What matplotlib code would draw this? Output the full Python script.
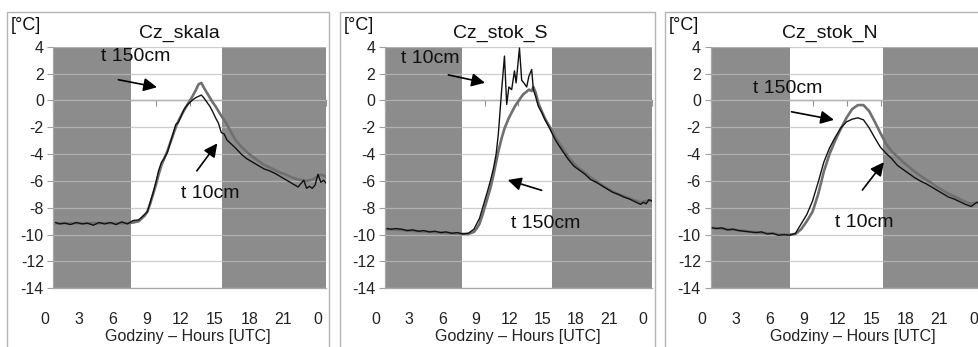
import matplotlib
matplotlib.use("Agg")
import matplotlib.pyplot as plt
import matplotlib.transforms as mtransforms
from matplotlib.patches import Rectangle

plt.rcParams['font.family'] = ['Liberation Sans', 'DejaVu Sans']
plt.rcParams['axes.unicode_minus'] = False

W, H = 979, 347

titles = ["Cz_skala", "Cz_stok_S", "Cz_stok_N"]
day_start = [6.85, 6.9, 7.05]
day_end = [14.85, 15.0, 15.2]
tick_hours = [0, 3, 6, 9, 12, 15, 18, 21, 24]
tick_labels = ["0", "3", "6", "9", "12", "15", "18", "21", "0"]
y_ticks = [4, 2, 0, -2, -4, -6, -8, -10, -12, -14]

# Cz_skala
hours_skala = [0.2, 0.5, 1, 1.5, 2, 2.5, 3, 3.5, 4, 4.5, 5, 5.5, 6, 6.5, 7, 7.5,
               8, 8.25, 8.5, 8.75, 9, 9.25, 9.5, 9.75, 10, 10.25, 10.5, 10.75, 11, 11.25, 11.5, 11.75,
               12, 12.25, 12.5, 12.75, 13, 13.25, 13.5, 13.75, 14, 14.25, 14.5, 14.75, 15, 15.25, 15.5,
               16, 16.5, 17, 17.5, 18, 18.5, 19, 19.5, 20, 20.5, 21, 21.5,
               22, 22.25, 22.5, 22.75, 23, 23.25, 23.5, 23.75, 24]
t10_skala = [-9.1, -9.2, -9.15, -9.25, -9.1, -9.2, -9.15, -9.3, -9.1, -9.2, -9.1, -9.25, -9.05, -9.2, -8.95, -8.9,
             -8.5, -8.3, -7.6, -6.9, -6.1, -5.2, -4.6, -4.3, -3.9, -3.2, -2.5, -1.8, -1.6, -1.1, -0.65, -0.35,
             -0.15, 0.05, 0.2, 0.3, 0.4, 0.15, -0.15, -0.45, -0.85, -1.3, -1.7, -2.4, -2.5, -2.95, -3.15,
             -3.55, -4.0, -4.35, -4.6, -4.85, -5.1, -5.25, -5.45, -5.7, -5.95, -6.2, -6.45,
             -5.95, -6.55, -6.4, -6.55, -6.3, -5.5, -6.1, -5.95, -6.2]
t150_skala = [-9.15, -9.15, -9.15, -9.15, -9.15, -9.15, -9.15, -9.15, -9.15, -9.15, -9.15, -9.15, -9.15, -9.15, -9.1, -9.0,
              -8.6, -8.3, -7.7, -7.0, -6.3, -5.5, -4.8, -4.3, -3.8, -3.2, -2.6, -2.0, -1.5, -1.1, -0.7, -0.35,
              0.0, 0.35, 0.75, 1.2, 1.3, 0.9, 0.55, 0.2, -0.15, -0.45, -0.8, -1.15, -1.45, -1.8, -2.2,
              -2.95, -3.45, -3.85, -4.2, -4.5, -4.8, -5.0, -5.2, -5.4, -5.55, -5.75, -5.9,
              -5.95, -6.0, -5.95, -5.9, -5.8, -5.65, -5.55, -5.6, -5.7]

# Cz_stok_S
hours_stok_s = [0.2, 0.5, 1, 1.5, 2, 2.5, 3, 3.5, 4, 4.5, 5, 5.5, 6, 6.5, 7, 7.5,
                8, 8.25, 8.5, 8.75, 9, 9.25, 9.5, 9.75, 10, 10.2, 10.5, 10.75, 10.95, 11.15, 11.4, 11.65, 11.8,
                12.1, 12.3, 12.5, 12.75, 12.95, 13.2, 13.35, 13.55, 13.8, 14.1, 14.4, 14.7, 15, 15.3, 15.6,
                16, 16.5, 17, 17.5, 18, 18.5, 19, 19.5, 20, 20.5, 21, 21.5, 22, 22.5, 23, 23.25, 23.5, 23.75, 24]
t10_stok_s = [-9.55, -9.6, -9.55, -9.6, -9.7, -9.65, -9.75, -9.7, -9.8, -9.75, -9.85, -9.8, -9.9, -9.85, -9.95, -9.9,
              -9.6, -9.2, -8.8, -8.1, -7.4, -6.7, -5.95, -5.1, -4.0, -2.5, 0.8, 3.3, -0.3, 1.0, 0.8, 2.2, 1.3,
              3.9, 1.5, 1.3, 1.0, 1.8, 2.3, 0.8, 0.3, -0.45, -0.9, -1.45, -1.9, -2.4, -2.9, -3.3,
              -3.8, -4.4, -4.9, -5.2, -5.5, -5.9, -6.1, -6.35, -6.6, -6.85, -7.0, -7.2, -7.35, -7.55, -7.75, -7.6, -7.7, -7.4, -7.5]
t150_stok_s = [-9.6, -9.6, -9.62, -9.65, -9.7, -9.72, -9.75, -9.78, -9.8, -9.82, -9.85, -9.88, -9.9, -9.92, -9.95, -9.95,
               -9.8, -9.55, -9.2, -8.6, -7.9, -7.2, -6.5, -5.6, -4.6, -3.8, -2.8, -2.1, -1.7, -1.3, -0.9, -0.5, -0.3,
               0.05, 0.3, 0.5, 0.65, 0.8, 0.7, 1.0, 0.6, -0.2, -0.8, -1.35, -1.8, -2.2, -2.7, -3.1,
               -3.6, -4.2, -4.7, -5.1, -5.4, -5.75, -6.0, -6.3, -6.55, -6.8, -7.0, -7.15, -7.3, -7.45, -7.6, -7.55, -7.5, -7.45, -7.45]

# Cz_stok_N
hours_stok_n = [0.2, 0.5, 1, 1.5, 2, 2.5, 3, 3.5, 4, 4.5, 5, 5.5, 6, 6.5, 7, 7.5,
                8, 8.5, 9, 9.5, 10, 10.5, 11, 11.5, 12, 12.5, 13, 13.5, 14, 14.5, 15, 15.5,
                16, 16.5, 17, 17.5, 18, 18.5, 19, 19.5, 20, 20.5, 21, 21.5, 22, 22.5, 23, 23.5, 24]
t10_stok_n = [-9.5, -9.55, -9.5, -9.65, -9.6, -9.7, -9.75, -9.8, -9.85, -9.8, -9.95, -9.9, -10.05, -10.0, -10.05, -9.9,
              -9.2, -8.5, -7.5, -6.1, -4.6, -3.55, -2.75, -2.05, -1.6, -1.4, -1.3, -1.45, -2.05, -2.8, -3.5, -3.95,
              -4.35, -4.85, -5.15, -5.45, -5.75, -6.0, -6.2, -6.45, -6.7, -6.95, -7.2, -7.35, -7.55, -7.75, -7.9, -7.6, -7.7]
t150_stok_n = [-9.5, -9.52, -9.55, -9.6, -9.62, -9.68, -9.72, -9.78, -9.82, -9.85, -9.9, -9.93, -9.98, -10.0, -10.0, -9.95,
               -9.6, -9.0, -8.3, -7.0, -5.3, -4.0, -3.0, -2.1, -1.3, -0.65, -0.35, -0.35, -0.8, -1.6, -2.45, -3.25,
               -3.8, -4.2, -4.6, -4.95, -5.3, -5.6, -5.9, -6.15, -6.45, -6.7, -6.95, -7.15, -7.35, -7.55, -7.7, -7.6, -7.6]

hours = [hours_skala, hours_stok_s, hours_stok_n]
t10 = [t10_skala, t10_stok_s, t10_stok_n]
t150 = [t150_skala, t150_stok_s, t150_stok_n]


def fx(px):
    return px / W


def fy(py):
    return 1 - py / H


fig = plt.figure(figsize=(W / 100, H / 100), dpi=100, facecolor='white')

# panel layout in pixels: plot left/right, frame left/right, title x, unit x, xlabel x
panels = [
    dict(left=53.5, right=326.5, frame=(7, 329), title_x=179, unit_x=11, xlabel_x=188),
    dict(left=385, right=651.7, frame=(340, 655), title_x=500, unit_x=344, xlabel_x=518),
    dict(left=710.5, right=982.5, frame=(665, 1010), title_x=830, unit_x=669, xlabel_x=853),
]
plot_top, plot_bottom = 46.7, 288.3

annotations = [
    [("t 150cm", (7.2, 3.25), (5.7, 1.54), (9.1, 0.98)),
     ("t 10cm", (13.8, -6.9), (12.6, -5.25), (14.4, -3.2))],
    [("t 10cm", (4.05, 3.1), (5.7, 1.9), (9.0, 1.31)),
     ("t 150cm", (14.5, -9.15), (14.1, -6.7), (11.05, -5.93))],
    [("t 150cm", (6.8, 0.86), (7.15, -0.85), (10.9, -1.45)),
     ("t 10cm", (13.6, -9.07), (13.4, -6.68), (15.3, -4.6))],
]

label_shift = mtransforms.ScaledTranslation(-9 / 100, 0, fig.dpi_scale_trans)

for i, p in enumerate(panels):
    # outer chart frame
    fl, fr = p['frame']
    fig.add_artist(Rectangle((fx(fl), fy(400)), fx(fr - fl), (400 - 12) / H,
                             transform=fig.transFigure, fill=False,
                             edgecolor='#b5b5b5', linewidth=1.0))

    ax = fig.add_axes([fx(p['left']), fy(plot_bottom),
                       fx(p['right'] - p['left']), (plot_bottom - plot_top) / H])
    ax.set_xlim(0, 24)
    ax.set_ylim(-14, 4)

    ax.axvspan(0, day_start[i], color='#8c8c8c', lw=0, zorder=0.2)
    ax.axvspan(day_end[i], 24, color='#8c8c8c', lw=0, zorder=0.2)

    ax.set_axisbelow(True)
    ax.set_yticks(y_ticks)
    ax.yaxis.grid(True, color='#bdbdbd', linewidth=0.9, alpha=0.75)

    ax.plot(hours[i], t150[i], color='#707070', linewidth=1.9, zorder=3)
    ax.plot(hours[i], t10[i], color='#111111', linewidth=1.0, zorder=4)

    ax.set_xticks(tick_hours)
    ax.set_xticklabels(tick_labels)
    ax.tick_params(axis='x', length=0, pad=17, labelsize=11.5, colors='#222222')
    ax.tick_params(axis='y', length=4, width=0.8, color='#a0a0a0', pad=3,
                   labelsize=11.5, labelcolor='#222222')
    for lab in ax.get_xticklabels():
        lab.set_transform(lab.get_transform() + label_shift)

    for side in ['top', 'right']:
        ax.spines[side].set_visible(False)
    for side in ['left', 'bottom']:
        ax.spines[side].set_color('#a8a8a8')
        ax.spines[side].set_linewidth(0.9)

    # zero line with tick marks (Excel category axis crossing at 0)
    zero = ax.secondary_xaxis(14 / 18)
    zero.set_xticks(tick_hours)
    zero.tick_params(axis='x', direction='in', length=4, width=0.8,
                     color='#909090', labeltop=False, labelbottom=False)
    for s in zero.spines.values():
        s.set_color('#9a9a9a')
        s.set_linewidth(1.0)

    for text, tpos, tail, head in annotations[i]:
        ax.text(tpos[0], tpos[1], text, ha='center', va='center',
                fontsize=14, color='#111111', zorder=5)
        ax.annotate('', xy=head, xytext=tail, zorder=5,
                    arrowprops=dict(arrowstyle='-|>', color='black', lw=1.2,
                                    mutation_scale=20, shrinkA=0, shrinkB=0))

    fig.text(fx(p['title_x']), fy(33), titles[i], ha='center', va='center',
             fontsize=14, color='#111111')
    fig.text(fx(p['unit_x']), fy(25), "[°C]", ha='left', va='center',
             fontsize=13, color='#111111')
    fig.text(fx(p['xlabel_x']), fy(337), "Godziny – Hours [UTC]", ha='center',
             va='center', fontsize=11.5, color='#222222')

fig.savefig('out.png', dpi=100, facecolor='white')
